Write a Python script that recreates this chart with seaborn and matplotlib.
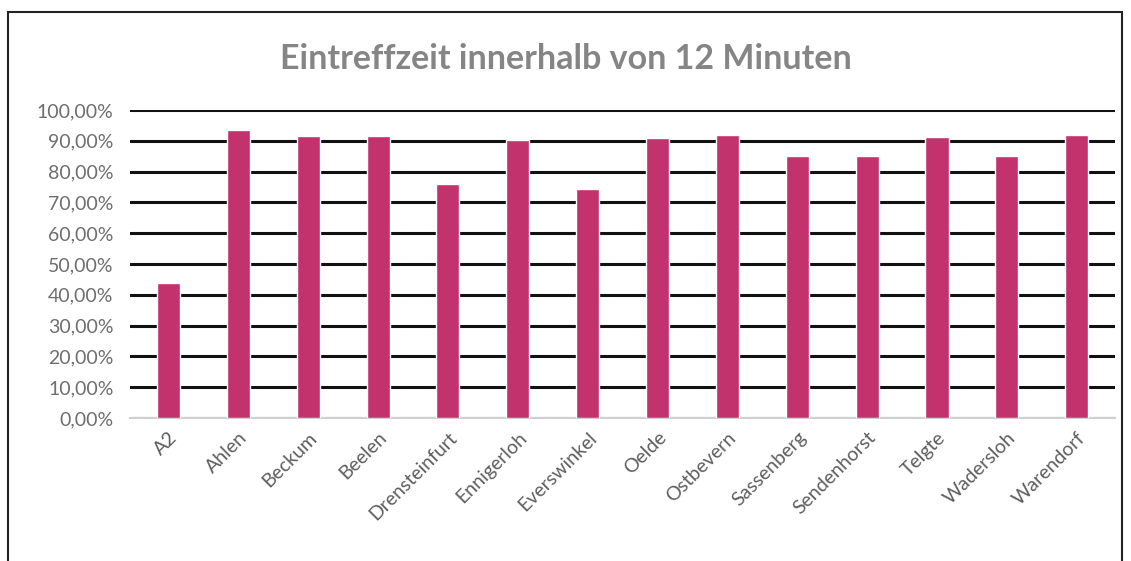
import matplotlib
matplotlib.use("Agg")
import matplotlib.pyplot as plt
import seaborn as sns
import pandas as pd
from matplotlib.ticker import FuncFormatter, MultipleLocator
from matplotlib.patches import Rectangle

categories = ["A2", "Ahlen", "Beckum", "Beelen", "Drensteinfurt", "Ennigerloh",
              "Everswinkel", "Oelde", "Ostbevern", "Sassenberg", "Sendenhorst",
              "Telgte", "Wadersloh", "Warendorf"]
values = [43.8, 93.5, 91.4, 91.7, 76.1, 90.2, 74.3, 90.9, 91.8, 85.2, 85.2, 91.2, 85.0, 92.0]
title = "Eintreffzeit innerhalb von 12 Minuten"

sns.set_theme(style="white")
plt.rcParams['font.family'] = ['Lato', 'DejaVu Sans']

df = pd.DataFrame({"Ort": categories, "Wert": values})

fig = plt.figure(figsize=(11.31, 5.61), dpi=100)
ax = fig.add_axes([0.115, 0.255, 0.871, 0.549])

sns.barplot(data=df, x="Ort", y="Wert", color="#C2336E", width=0.33,
            saturation=1, ax=ax, zorder=3)

ax.set_ylim(0, 100)
ax.yaxis.set_major_locator(MultipleLocator(10))
ax.yaxis.set_major_formatter(FuncFormatter(lambda v, p: f"{v:.2f}".replace(".", ",") + "%"))
ax.grid(axis="y", color="#111111", linewidth=2.2, zorder=0)
ax.set_axisbelow(True)
for s in ["top", "right", "left"]:
    ax.spines[s].set_visible(False)
ax.spines["bottom"].set_color("#d0d0d0")
ax.spines["bottom"].set_linewidth(1.5)
ax.set_xlabel("")
ax.set_ylabel("")
ax.tick_params(axis="y", labelsize=14, labelcolor="#6e6e6e", length=0, pad=12)
ax.tick_params(axis="x", labelsize=14, labelcolor="#5e5e5e", length=0, pad=8)
plt.setp(ax.get_xticklabels(), rotation=45, ha="right", rotation_mode="anchor")
ax.set_xlim(-0.55, len(categories) - 0.45)

fig.text(0.5, 0.895, title, ha="center", va="center", fontsize=24.5,
         fontweight="bold", color="#858585")

fig.patches.append(Rectangle((0.007, -0.01), 0.985, 0.988, transform=fig.transFigure,
                             fill=False, edgecolor="#222222", linewidth=1.5))

fig.savefig("out.png", dpi=100)
